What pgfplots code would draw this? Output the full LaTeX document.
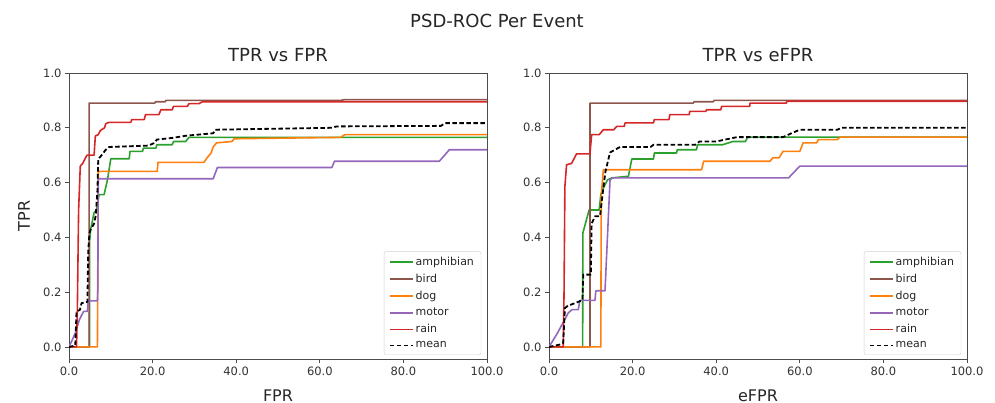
\documentclass[border=0pt]{standalone}
\usepackage{pgfplots}
\pgfplotsset{compat=1.18}
\usepackage{fontspec}
\setmainfont{DejaVu Sans}
\definecolor{camph}{HTML}{2CA02C}
\definecolor{cbird}{HTML}{8C564B}
\definecolor{cdog}{HTML}{FF7F0E}
\definecolor{cmotor}{HTML}{9467BD}
\definecolor{crain}{HTML}{D62728}
\pgfplotsset{rocax/.style={
  scale only axis, width=418bp, height=286bp,
  xmin=0, xmax=100, ymin=-0.044, ymax=1.0,
  axis line style={black!70, line width=0.8bp},
  tick align=outside, major tick length=4bp,
  tick style={black!70, line width=0.8bp},
  xtick={0,20,40,60,80,100}, ytick={0,0.2,0.4,0.6,0.8,1.0},
  xticklabels={0.0,20.0,40.0,60.0,80.0,100.0},
  yticklabels={0.0,0.2,0.4,0.6,0.8,1.0},
  ticklabel style={font=\fontsize{11.5bp}{13bp}\selectfont, text=black!80},
  xtick pos=bottom, ytick pos=left,
  title style={at={(axis description cs:0.5,1)}, anchor=base, yshift=6bp,
    font=\fontsize{18bp}{20bp}\selectfont, text=black!85},
  xlabel style={at={(axis description cs:0.5,0)}, anchor=base, yshift=-42bp,
    font=\fontsize{16bp}{18bp}\selectfont, text=black!85},
  ylabel style={at={(axis description cs:-0.0933,0.5)}, anchor=base, rotate=0,
    font=\fontsize{16bp}{18bp}\selectfont, text=black!85},
  legend style={at={(axis description cs:0.986,0.014)}, anchor=south east,
    draw=black!18, rounded corners=2bp, fill=white,
    font=\fontsize{11bp}{13bp}\selectfont, text=black!85,
    inner xsep=5bp, inner ysep=3.5bp, row sep=3.2bp},
  legend cell align=left,
  legend image code/.code={\draw[line width=1.6bp, #1] (0bp,0bp) -- (23bp,0bp);},
  every axis plot/.append style={line width=1.6bp, line join=round},
}}
\begin{document}
\begin{tikzpicture}
\path[use as bounding box] (0,0) rectangle (995bp,403bp);
\node[anchor=base, font=\fontsize{18bp}{20bp}\selectfont, text=black!85] at (497bp,375bp) {PSD-ROC Per Event};

% ---------------- left: TPR vs FPR ----------------
\begin{axis}[rocax, at={(69bp,44bp)}, anchor=south west,
  title={TPR vs FPR}, xlabel={FPR}, ylabel={TPR}]
\addplot[camph] coordinates {(0,0) (4.9,0) (4.95,0.39) (5.2,0.43) (6.0,0.49) (6.6,0.50) (7.2,0.556) (8.4,0.556) (9.2,0.61) (10.0,0.687) (14.4,0.687) (14.6,0.714) (17.6,0.714) (17.8,0.726) (20.8,0.726) (21.0,0.738) (24.7,0.738) (25.0,0.75) (27.9,0.75) (28.7,0.765) (100,0.765)};
\addlegendentry{amphibian}
\addplot[cbird] coordinates {(0,0) (4.8,0) (4.8,0.89) (20.5,0.89) (20.7,0.895) (23.0,0.895) (23.2,0.90) (65,0.90) (66,0.903) (100,0.903)};
\addlegendentry{bird}
\addplot[cdog] coordinates {(0,0) (6.8,0) (7.0,0.641) (21.1,0.641) (21.3,0.674) (32.3,0.674) (33.0,0.69) (34.0,0.708) (34.5,0.73) (35.3,0.745) (39.0,0.75) (39.5,0.76) (65,0.765) (66,0.775) (100,0.775)};
\addlegendentry{dog}
\addplot[cmotor] coordinates {(0,0) (1.5,0.05) (2.5,0.10) (3.5,0.13) (4.4,0.13) (4.6,0.168) (6.8,0.168) (6.9,0.21) (7.0,0.614) (34.5,0.614) (35.5,0.655) (62.9,0.655) (63.5,0.678) (88.6,0.678) (91.0,0.72) (100,0.72)};
\addlegendentry{motor}
\addplot[crain] coordinates {(0,0) (1.8,0) (2.0,0.14) (2.3,0.5) (2.7,0.66) (3.3,0.67) (3.6,0.68) (4.3,0.70) (6.0,0.70) (6.3,0.77) (7.0,0.775) (7.5,0.79) (8.5,0.80) (8.8,0.815) (9.6,0.82) (14.8,0.82) (15.0,0.83) (18.0,0.83) (18.3,0.848) (21.5,0.848) (22.0,0.866) (24.7,0.866) (25.0,0.878) (28.3,0.878) (28.7,0.888) (31.1,0.888) (31.9,0.895) (100,0.895)};
\addlegendentry{rain}
\addplot[black, dash pattern=on 4.5bp off 2.5bp, line width=1.8bp] coordinates {(0,0) (1.5,0.005) (1.8,0.13) (2.6,0.135) (3.0,0.16) (4.4,0.165) (4.6,0.35) (4.9,0.416) (5.2,0.43) (6.0,0.45) (6.4,0.48) (6.8,0.57) (7.0,0.687) (7.6,0.696) (8.8,0.72) (9.6,0.73) (19.0,0.735) (20.5,0.745) (21.0,0.757) (24.7,0.763) (28.0,0.771) (34.5,0.78) (35.0,0.793) (63.0,0.80) (64.0,0.805) (89.0,0.807) (90.0,0.817) (100,0.817)};
\addlegendentry{mean}
\end{axis}

% ---------------- right: TPR vs eFPR ----------------
\begin{axis}[rocax, at={(549bp,44bp)}, anchor=south west,
  title={TPR vs eFPR}, xlabel={eFPR}]
\addplot[camph] coordinates {(0,0) (8.05,0) (8.1,0.416) (9.6,0.5) (12.0,0.5) (12.4,0.556) (13.0,0.58) (14.0,0.61) (15.0,0.617) (19.0,0.623) (19.8,0.686) (25.0,0.686) (25.2,0.708) (30.5,0.708) (30.7,0.72) (35.3,0.72) (35.5,0.738) (41.5,0.738) (44.0,0.75) (47.0,0.75) (47.5,0.766) (100,0.766)};
\addlegendentry{amphibian}
\addplot[cbird] coordinates {(0,0) (9.8,0) (9.8,0.89) (34.5,0.89) (34.7,0.895) (39.3,0.895) (39.5,0.90) (100,0.90)};
\addlegendentry{bird}
\addplot[cdog] coordinates {(0,0) (12.4,0) (12.5,0.55) (13.0,0.647) (36.5,0.647) (37.0,0.678) (52.9,0.678) (53.5,0.69) (55.0,0.69) (56.0,0.714) (60.0,0.714) (60.8,0.745) (64.0,0.745) (64.5,0.757) (69.0,0.757) (69.6,0.766) (100,0.766)};
\addlegendentry{dog}
\addplot[cmotor] coordinates {(0,0) (2.0,0.05) (4.6,0.124) (5.5,0.136) (7.0,0.136) (7.4,0.17) (11.0,0.17) (11.2,0.205) (13.4,0.205) (14.6,0.61) (15.2,0.617) (57.3,0.617) (60.0,0.66) (100,0.66)};
\addlegendentry{motor}
\addplot[crain] coordinates {(0,0) (3.4,0) (3.6,0.2) (3.8,0.586) (4.2,0.665) (5.4,0.67) (6.6,0.705) (9.8,0.705) (10.2,0.775) (12.0,0.775) (13.0,0.793) (15.5,0.793) (16.2,0.805) (18.0,0.805) (18.2,0.818) (25.0,0.818) (25.2,0.83) (28.7,0.83) (28.9,0.848) (33.5,0.848) (33.7,0.86) (37.5,0.86) (37.7,0.866) (41.1,0.866) (41.3,0.878) (48.0,0.878) (48.1,0.89) (56.8,0.89) (56.9,0.897) (100,0.897)};
\addlegendentry{rain}
\addplot[black, dash pattern=on 4.5bp off 2.5bp, line width=1.8bp] coordinates {(0,0) (3.0,0.01) (3.4,0.015) (3.8,0.142) (4.5,0.15) (7.4,0.167) (8.0,0.17) (8.2,0.264) (10.0,0.264) (10.2,0.45) (11.0,0.477) (12.2,0.477) (12.8,0.556) (13.5,0.64) (14.6,0.71) (17.0,0.73) (24.3,0.73) (25.0,0.738) (35.0,0.738) (36.0,0.75) (40.0,0.75) (45.0,0.766) (56.0,0.766) (58.0,0.78) (60.0,0.793) (69.0,0.793) (70.0,0.80) (100,0.80)};
\addlegendentry{mean}
\end{axis}
\end{tikzpicture}
\end{document}
